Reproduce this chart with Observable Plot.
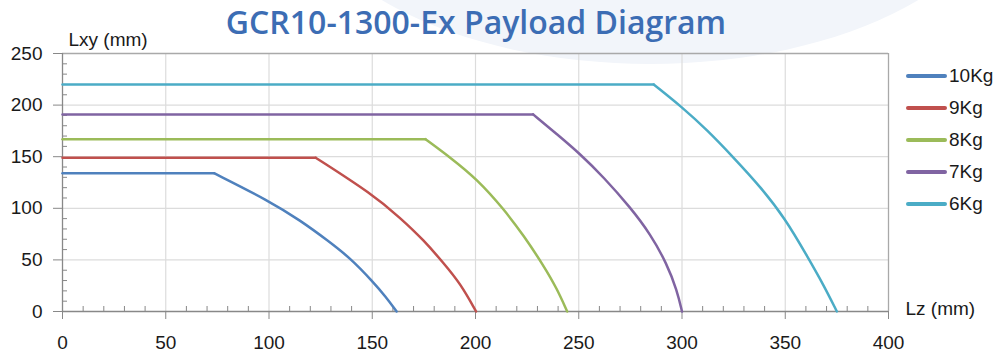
<!DOCTYPE html>
<html><head><meta charset="utf-8">
<script src="https://cdn.jsdelivr.net/npm/d3@7"></script>
<script src="https://cdn.jsdelivr.net/npm/@observablehq/plot@0.6"></script>
<style>
html,body{margin:0;padding:0;background:#fff;}
#wrap{position:relative;width:1000px;height:356px;overflow:hidden;font-family:"Liberation Sans",Arial,sans-serif;color:#1a1a1a;}
#bg{position:absolute;left:290px;top:-320px;width:720px;height:384px;border-radius:50%;background:#f2f5fa;}
#title{position:absolute;left:0;width:952px;top:0;line-height:normal;text-align:center;font-family:"Open Sans",sans-serif;font-weight:600;font-size:32px;color:#3c6db4;letter-spacing:0;}
#chart{position:absolute;left:0;top:0;}
#legend{position:absolute;left:906px;top:60px;}
.li{display:flex;align-items:center;height:32px;font-size:19px;}
.sw{width:41px;height:4px;border-radius:2px;margin-right:2px;}
</style></head>
<body><div id="wrap"><div id="bg"></div><div id="chart"></div><div id="title"></div><div id="legend"></div></div>
<script>
const titleText = "GCR10-1300-Ex Payload Diagram";
const series = ["10Kg", "9Kg", "8Kg", "7Kg", "6Kg"];
const colors = ["#4F81BD", "#C0504D", "#9BBB59", "#8064A2", "#4BACC6"];
const xTicks = [0, 50, 100, 150, 200, 250, 300, 350, 400];
const yTicks = [0, 50, 100, 150, 200, 250];

// Lz (x) and Lxy (y); first point = start of flat part
const lz10  = [0, 73.4, 100, 115.3, 128.3, 139.5, 150, 156.5, 161.8];
const lxy10 = [134, 134, 107.2, 88, 69, 51.5, 29.5, 14.5, 0];
const lz9   = [0, 122.6, 150, 163.7, 175, 184.7, 192.7, 200.3];
const lxy9  = [149, 149, 113.7, 90.5, 69, 46.5, 27, 0];
const lz8   = [0, 175.8, 187.9, 200.8, 213.7, 223.4, 233, 239.5, 244.4];
const lxy8  = [167, 167, 149.1, 128.2, 99.2, 73.4, 44.4, 21.9, 0];
const lz7   = [0, 227.9, 239.5, 250.8, 262.1, 275, 284.7, 292.7, 297.6, 300];
const lxy7  = [191, 191, 171.7, 152.4, 130, 100.8, 75.1, 46.1, 20.3, 0];
const lz6   = [0, 286.3, 300, 312.1, 325, 337.9, 350, 360.5, 368.5, 375];
const lxy6  = [220, 220, 198.1, 176, 149.1, 121, 90, 54, 26, 0];

const lzs = [lz10, lz9, lz8, lz7, lz6];
const lxys = [lxy10, lxy9, lxy8, lxy7, lxy6];
const flatRows = [], curveRows = [];
series.forEach((s, i) => lzs[i].forEach((x, j) => {
  const r = {series: s, lz: x, lxy: lxys[i][j]};
  if (j <= 1) flatRows.push(r);
  if (j >= 1) curveRows.push(r);
}));

const minorX = d3.range(0, 401, 10).filter(v => v % 50 !== 0);
const minorY = d3.range(0, 251, 10).filter(v => v % 50 !== 0);

document.getElementById("title").textContent = titleText;

const chart = Plot.plot({
  width: 1000, height: 356,
  marginLeft: 62, marginRight: 112, marginTop: 53, marginBottom: 45,
  style: {background: "transparent", fontFamily: "'Liberation Sans', Arial, sans-serif", fontSize: "19px", color: "#1a1a1a", overflow: "visible"},
  x: {domain: [0, 400]},
  y: {domain: [0, 250]},
  color: {domain: series, range: colors},
  marks: [
    Plot.gridX(xTicks.filter(v => v > 0 && v < 400), {stroke: "#dcdcdc", strokeOpacity: 1, strokeWidth: 1.2}),
    Plot.gridY(yTicks.filter(v => v > 0 && v < 250), {stroke: "#dcdcdc", strokeOpacity: 1, strokeWidth: 1.2}),
    Plot.ruleY([250], {stroke: "#a9a9a9", strokeWidth: 1.3}),
    Plot.ruleX([400], {stroke: "#a9a9a9", strokeWidth: 1.3}),
    Plot.axisX(minorX, {tickSize: -5, tickFormat: () => "", label: null, stroke: "#888"}),
    Plot.axisY(minorY, {tickSize: -5, tickFormat: () => "", label: null, stroke: "#888"}),
    Plot.axisX(xTicks, {tickSize: 8, tickPadding: 16, label: null, stroke: "#888", fontSize: 19}),
    Plot.axisY(yTicks, {tickSize: 9, tickPadding: 11, label: null, stroke: "#888", fontSize: 19}),
    Plot.ruleY([0], {stroke: "#888", strokeWidth: 1.3}),
    Plot.ruleX([0], {stroke: "#888", strokeWidth: 1.3}),
    Plot.line(flatRows, {x: "lz", y: "lxy", z: "series", stroke: "series", strokeWidth: 2.5}),
    Plot.line(curveRows, {x: "lz", y: "lxy", z: "series", stroke: "series", strokeWidth: 2.5, curve: "basis"}),
    Plot.text(["Lxy (mm)"], {frameAnchor: "top-left", textAnchor: "start", dx: 6, dy: -21, fontSize: 19}),
    Plot.text(["Lz (mm)"], {frameAnchor: "bottom-right", textAnchor: "start", dx: 17, dy: 3, fontSize: 19})
  ]
});
document.getElementById("chart").appendChild(chart);

const legend = document.getElementById("legend");
series.forEach((s, i) => {
  const row = document.createElement("div");
  row.className = "li";
  const sw = document.createElement("div");
  sw.className = "sw";
  sw.style.background = colors[i];
  const t = document.createElement("span");
  t.textContent = s;
  row.appendChild(sw); row.appendChild(t);
  legend.appendChild(row);
});
</script></body></html>
